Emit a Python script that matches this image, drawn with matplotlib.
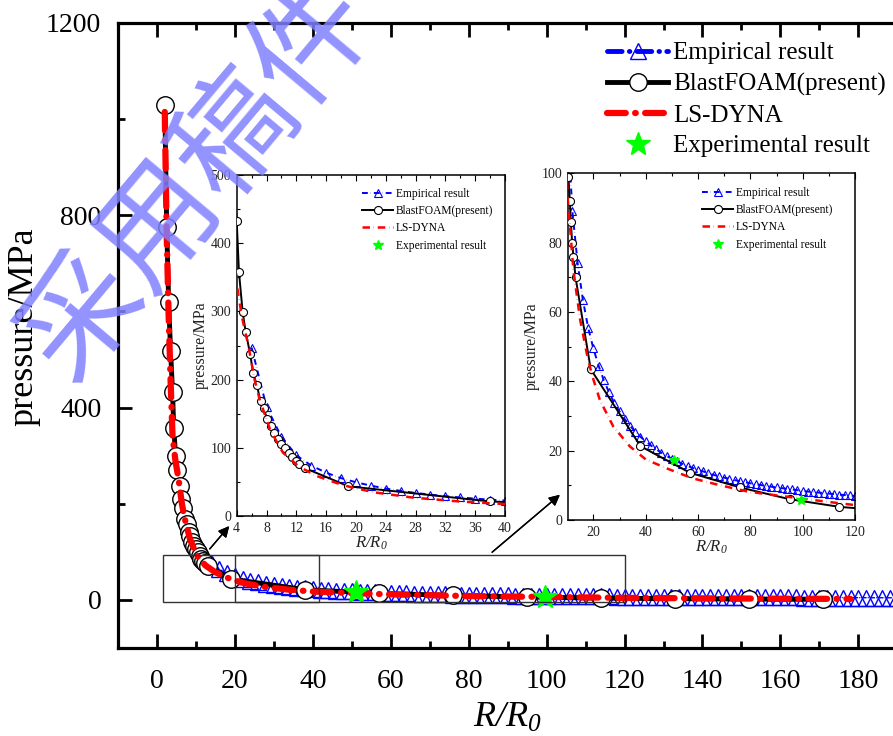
import matplotlib
matplotlib.use("Agg")
import matplotlib.pyplot as plt
from matplotlib.patches import Rectangle
from matplotlib.lines import Line2D
from matplotlib.ticker import MultipleLocator

plt.rcParams['font.family'] = ['Liberation Serif', 'DejaVu Serif']
plt.rcParams['mathtext.fontset'] = 'custom'
# every math label here is italic, digits included
plt.rcParams['mathtext.rm'] = 'Liberation Serif:italic'
plt.rcParams['mathtext.it'] = 'Liberation Serif:italic'

# --- data ---
blast_r = [2.0, 2.5, 3.0, 3.5, 4.0, 4.3, 4.8, 5.2, 5.8, 6.2, 6.7, 7.2, 7.6, 8.1, 8.6,
           9.0, 9.5, 10.0, 10.5, 11.0, 11.4, 11.9, 12.4, 13.2, 19.0, 38.0, 57.0,
           76.0, 95.0, 114.0, 133.0, 152.0, 171.0]
blast_p = [1030, 775, 620, 517, 433, 358, 299, 270, 238, 210, 192, 168, 158, 142, 132,
           121, 113, 106, 99, 92, 86, 80, 76, 70, 43.5, 21.3, 13.6,
           9.4, 6.0, 3.8, 2.6, 1.8, 1.2]

ls_r = [2.0, 2.5, 3.0, 3.5, 4.0, 4.7, 5.6, 6.4, 7.1, 8.5, 10.2, 12.4, 14.9, 17.5, 19.4,
        22.5, 27.6, 34.0, 40.0, 48.0, 58.0, 68.0, 79.0, 89.0, 99.0, 110.0, 120.0,
        140.0, 160.0, 178.0]
ls_p = [1015, 760, 590, 455, 340, 292, 248, 200, 170, 126, 93, 72, 58, 48, 42,
        34.6, 27, 21.2, 17.5, 14.9, 12.0, 10.1, 8.2, 7.2, 6.25, 5.2, 4.3,
        3.3, 2.6, 2.1]

emp_r = [6, 8, 10, 12, 14, 16, 18, 20, 22, 24, 26, 28, 30, 32, 34, 36, 38, 40,
         42, 44, 46, 48, 50, 52, 54, 56, 58, 60, 62, 64, 66, 68, 70, 72, 74, 76,
         78, 80, 82, 84, 86, 88, 90, 92, 94, 96, 98, 100, 102, 104, 106, 108, 110,
         112, 114, 116, 118, 120, 122, 124, 126, 128, 130, 132, 134, 136, 138, 140,
         142, 144, 146, 148, 150, 152, 154, 156, 158, 160, 162, 164, 166, 168, 170,
         172, 174, 176, 178, 180, 182, 184, 186, 188, 190]
emp_p = [247, 160, 116, 89, 74, 63.5, 55.5, 49.5, 44.5, 40.3, 36.8, 33.8, 31.3, 29.1,
         27.2, 25.5, 24.0, 22.7, 21.5, 20.4, 19.4, 18.5, 17.6, 16.9, 16.2, 15.6, 15.0,
         14.5, 14.0, 13.5, 13.0, 12.6, 12.2, 11.9, 11.5, 11.2, 10.9, 10.6, 10.3, 10.1,
         9.8, 9.6, 9.4, 9.2, 9.0, 8.8, 8.6, 8.4, 8.2, 8.1, 7.9, 7.8, 7.6, 7.5, 7.3,
         7.2, 7.1, 6.9, 6.8, 6.7, 6.6, 6.5, 6.4, 6.3, 6.2, 6.1, 6.0, 5.9, 5.8, 5.75,
         5.7, 5.6, 5.5, 5.45, 5.4, 5.3, 5.25, 5.2, 5.1, 5.05, 5.0, 4.95, 4.9, 4.8,
         4.75, 4.7, 4.65, 4.6, 4.55, 4.5, 4.45, 4.4, 4.35]

exp_r = [51.0, 99.5]
exp_p = [17.3, 5.7]

labels = ['Empirical result', 'BlastFOAM(present)', 'LS-DYNA', 'Experimental result']

BLUE = '#0000ff'
RED = '#ff0000'
GREEN = '#00ff00'
DASHDOT = (0, (3, 1.5, 0.1, 1.5))

W, H = 893, 736
fig = plt.figure(figsize=(W / 100, H / 100), dpi=100)


def px_axes(x0, y0, x1, y1):
    # pixel box (top-left origin) -> figure fraction
    return [x0 / W, 1 - y1 / H, (x1 - x0) / W, (y1 - y0) / H]


def draw_series(ax, lw, blue_lw, ms, mew, star_ms, red_lw, cap):
    ax.plot(emp_r, emp_p, color=BLUE, lw=blue_lw, linestyle=DASHDOT, dash_capstyle=cap,
            marker='^', ms=ms, mfc='none', mec=BLUE, mew=mew, zorder=2)
    ax.plot(blast_r, blast_p, color='black', lw=lw, marker='o', ms=ms * 1.05,
            mfc='white', mec='black', mew=mew, zorder=3)
    ax.plot(ls_r, ls_p, color=RED, lw=red_lw, linestyle=DASHDOT, dash_capstyle=cap, zorder=4)
    ax.plot(exp_r, exp_p, linestyle='none', marker='*', ms=star_ms, color=GREEN,
            mec=GREEN, zorder=5)
    # legend handles
    return [Line2D([], [], color=BLUE, lw=lw, linestyle=DASHDOT, dash_capstyle=cap,
                   marker='^', ms=ms, mfc='none', mec=BLUE, mew=mew),
            Line2D([], [], color='black', lw=lw, marker='o', ms=ms * 1.05,
                   mfc='white', mec='black', mew=mew),
            Line2D([], [], color=RED, lw=red_lw, linestyle=DASHDOT, dash_capstyle=cap),
            Line2D([], [], linestyle='none', marker='*', ms=star_ms, color=GREEN, mec=GREEN)]


# --- main axes ---
ax = fig.add_axes(px_axes(118, 23, 897.3, 648))
handles = draw_series(ax, lw=3.5, blue_lw=1.0, ms=12, mew=1.0, star_ms=18, red_lw=4.5,
                      cap='round')
ax.set_xlim(-10, 190)
ax.set_ylim(-100, 1200)
ax.xaxis.set_major_locator(MultipleLocator(20))
ax.xaxis.set_minor_locator(MultipleLocator(10))
ax.yaxis.set_major_locator(MultipleLocator(400))
ax.yaxis.set_minor_locator(MultipleLocator(200))
ax.tick_params(which='both', direction='in', top=True, right=False, width=2)
ax.tick_params(which='major', length=10, labelsize=20, pad=12)
ax.tick_params(axis='x', which='major', pad=15)
ax.tick_params(which='minor', length=5)
for s in ax.spines.values():
    s.set_linewidth(2.3)

ax.add_patch(Rectangle((1.5, -5), 40, 98, fill=False, ec='#333333', lw=1.0, zorder=6))
ax.add_patch(Rectangle((20, -5), 100, 98, fill=False, ec='#333333', lw=1.0, zorder=6))

fig.text(24 / W, 1 - 327 / H, 'pressure/MPa', rotation=90, fontsize=26,
         ha='center', va='center')
fig.text(507 / W, 1 - 727 / H, r'$R/R_0$', fontsize=26, ha='center', va='baseline')

ax.legend(handles, labels, loc='upper left', bbox_to_anchor=(607 / W, 1 - 42 / H),
          bbox_transform=fig.transFigure, frameon=False, fontsize=18,
          handlelength=2.45, handletextpad=0.2, labelspacing=0.33,
          borderpad=0, borderaxespad=0, numpoints=1)


def inset(box, xlim, ylim, xmaj, xmin, ymaj, ymin, leg_xy):
    a = fig.add_axes(px_axes(*box))
    h = draw_series(a, lw=1.4, blue_lw=1.4, ms=5.5, mew=0.8, star_ms=7, red_lw=1.8,
                    cap='butt')
    a.set_xlim(*xlim)
    a.set_ylim(*ylim)
    a.xaxis.set_major_locator(MultipleLocator(xmaj))
    a.xaxis.set_minor_locator(MultipleLocator(xmin))
    a.yaxis.set_major_locator(MultipleLocator(ymaj))
    a.yaxis.set_minor_locator(MultipleLocator(ymin))
    a.tick_params(which='both', direction='in', top=True, right=False, width=0.8)
    a.tick_params(which='major', length=4, labelsize=10, pad=4, labelcolor='#222222')
    a.tick_params(which='minor', length=2.5)
    for s in a.spines.values():
        s.set_linewidth(1.1)
    a.set_xlabel(r'$R/R_0$', fontsize=12, labelpad=0, color='#222222')
    a.set_ylabel('pressure/MPa', fontsize=11.5, labelpad=1, color='#222222')
    a.legend(h, labels, loc='upper left', bbox_to_anchor=(leg_xy[0] / W, 1 - leg_xy[1] / H),
             bbox_transform=fig.transFigure, frameon=False, fontsize=8.3,
             handlelength=2.7, handletextpad=0.25, labelspacing=0.45,
             borderpad=0, borderaxespad=0, numpoints=1)
    return a


inset((236.7, 175, 505, 516), (4, 40), (0, 500), 4, 2, 100, 50, (362, 188))
inset((567.7, 173.3, 855, 520), (10.2, 120), (0, 100), 20, 10, 20, 10, (702, 187))

# zoom arrows
arrow = dict(arrowstyle='-|>', color='black', lw=1.0, mutation_scale=16)
fig.add_artist(plt.annotate('', xy=(231 / W, 1 - 524 / H), xytext=(208 / W, 1 - 551 / H),
                            xycoords='figure fraction', textcoords='figure fraction',
                            arrowprops=arrow))
fig.add_artist(plt.annotate('', xy=(562 / W, 1 - 493 / H), xytext=(490 / W, 1 - 554 / H),
                            xycoords='figure fraction', textcoords='figure fraction',
                            arrowprops=arrow))

# watermark
fig.text(199 / W, 1 - 180 / H, '采用稿件', rotation=50, fontsize=86, color='#8080ff',
         alpha=0.85, ha='center', va='center', rotation_mode='anchor', fontweight='light',
         family=['Noto Sans CJK SC', 'DejaVu Sans'], zorder=100)

fig.savefig('out.png', dpi=100)
